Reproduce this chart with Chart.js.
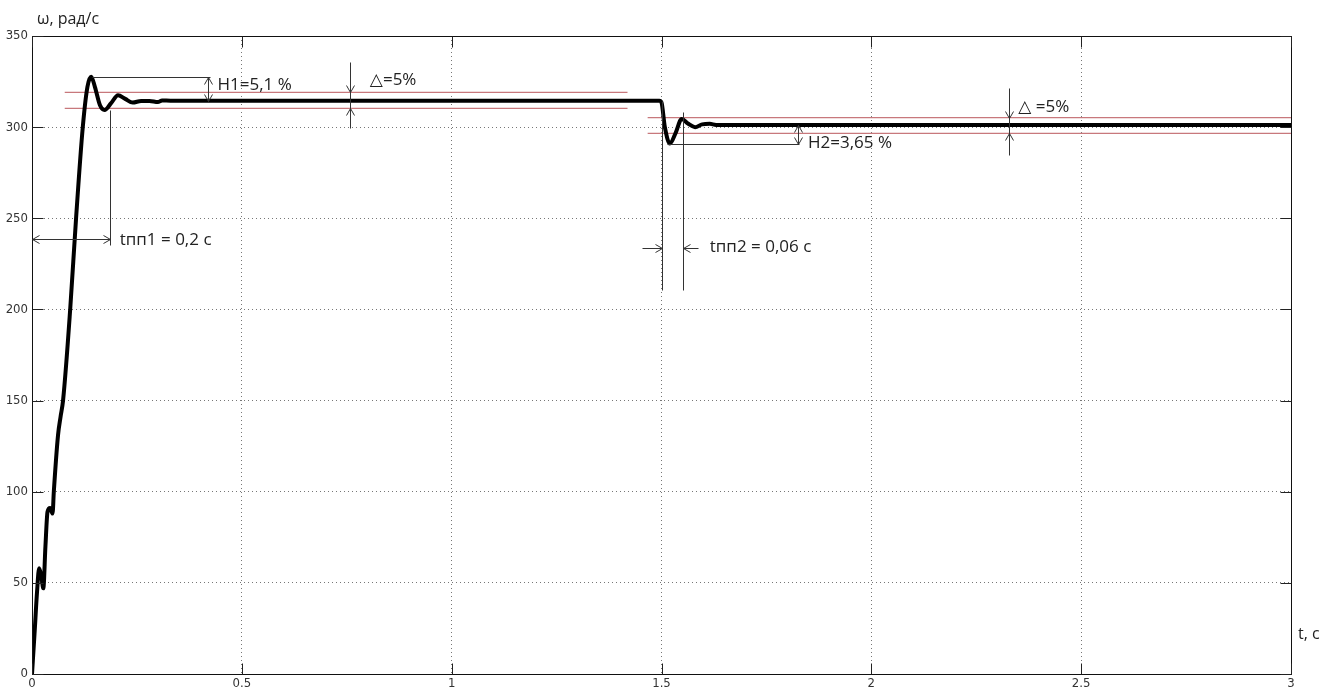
<!DOCTYPE html>
<html>
<head>
<meta charset="utf-8">
<script src="https://cdn.jsdelivr.net/npm/chart.js@4.4.1/dist/chart.umd.min.js"></script>
<style>
  html, body { margin: 0; padding: 0; background: #fff; }
  #wrap { width: 1327px; height: 689px; }
</style>
</head>
<body>
<div id="wrap"><canvas id="speedChart" width="1327" height="689"></canvas></div>
<script>
// --- dados ---
// tempo (s) e velocidade angular (rad/s)
const tData = [0, 0.006, 0.012, 0.017, 0.022, 0.027, 0.032, 0.037, 0.043, 0.049, 0.052, 0.062, 0.068, 0.074,
  0.091, 0.105, 0.121, 0.132, 0.141, 0.150, 0.162, 0.173, 0.188, 0.205, 0.222, 0.240, 0.26, 0.28,
  0.30, 0.31, 0.33, 1.495, 1.500, 1.508, 1.520, 1.534, 1.548, 1.563, 1.580, 1.597, 1.615, 1.63, 1.65, 3.0];
const wData = [0, 22, 45, 58, 54, 47, 70, 89, 91, 88, 100, 131, 141, 150,
  200, 250, 300, 322, 327.6, 322, 312, 309.4, 313, 317.5, 315.5, 313.5, 314.4, 314.4,
  313.8, 314.6, 314.5, 314.5, 313.5, 300, 291, 297, 304.5, 302, 300, 301.5, 301.8, 301.2, 301.2, 301.2];

// faixas de ±Δ (linhas vermelhas)
const band1T = [0.078, 1.419];
const band1W = [319.1, 310.3];
const band2T = [1.467, 3];
const band2W = [305.2, 296.6];

// eixos
const xTicks = [0, 0.5, 1, 1.5, 2, 2.5, 3];
const yTicks = [0, 50, 100, 150, 200, 250, 300, 350];

// linhas auxiliares pretas [t1, w1, t2, w2]
const guideSegs = [
  [0.142, 327.6, 0.423, 327.6],   // topo H1
  [0.4185, 327.6, 0.4185, 314.5], // seta H1
  [0.757, 335.7, 0.757, 299.5],   // Δ1
  [0.185, 309.4, 0.185, 235.3],   // tпп1 vertical
  [0, 238.6, 0.185, 238.6],       // tпп1 seta
  [1.5, 314.5, 1.5, 210.6],       // tпп2 vertical esq.
  [1.552, 308.4, 1.552, 210.6],   // tпп2 vertical dir.
  [1.4525, 233.5, 1.5, 233.5],
  [1.5875, 233.5, 1.552, 233.5],
  [1.5125, 290.6, 1.828, 290.6],  // base H2
  [1.825, 301.2, 1.825, 290.6],   // seta H2
  [2.328, 321.3, 2.328, 284.7]    // Δ2
];
// pontas de seta [t, w, direção]
const arrowHeads = [
  [0.4185, 327.6, 'up'], [0.4185, 314.5, 'down'],
  [0.757, 319.1, 'down'], [0.757, 310.3, 'up'],
  [0, 238.6, 'left'], [0.185, 238.6, 'right'],
  [1.5, 233.5, 'right'], [1.552, 233.5, 'left'],
  [1.825, 301.2, 'up'], [1.825, 290.6, 'down'],
  [2.328, 305.2, 'down'], [2.328, 296.6, 'up']
];
// textos [t, w, texto]
const notes = [
  [0.442, 322.8, 'H1=5,1 %'],
  [0.805, 325.8, '△=5%'],
  [0.209, 238.2, 'tпп1 = 0,2 с'],
  [1.615, 234.0, 'tпп2 = 0,06 с'],
  [1.849, 291.0, 'H2=3,65 %'],
  [2.350, 311.2, '△ =5%']
];

const toPts = (ts, ws) => ts.map((t, i) => ({ x: t, y: ws[i] }));
const textFont = "17px 'Open Sans', 'DejaVu Sans', sans-serif";

// plugin para moldura, marcas internas e anotações
const guidesPlugin = {
  id: 'guides',
  afterDatasetsDraw(chart) {
    const { ctx, chartArea: a, scales: { x, y } } = chart;
    const px = t => x.getPixelForValue(t);
    const py = w => y.getPixelForValue(w);
    ctx.save();

    // moldura
    ctx.strokeStyle = '#111';
    ctx.lineWidth = 1;
    ctx.setLineDash([]);
    const L = Math.round(a.left) + 0.5, R = Math.round(a.right) + 0.5;
    const T = Math.round(a.top) + 0.5, B = Math.round(a.bottom) + 0.5;
    ctx.strokeRect(L, T, R - L, B - T);

    // marcas internas
    ctx.strokeStyle = '#222';
    ctx.beginPath();
    xTicks.forEach(t => {
      const xp = Math.round(px(t)) + 0.5;
      ctx.moveTo(xp, B); ctx.lineTo(xp, B - 11);
      ctx.moveTo(xp, T); ctx.lineTo(xp, T + 11);
    });
    yTicks.forEach(w => {
      const yp = Math.round(py(w)) + 0.5;
      ctx.moveTo(L, yp); ctx.lineTo(L + 11, yp);
      ctx.moveTo(R, yp); ctx.lineTo(R - 11, yp);
    });
    ctx.stroke();

    // linhas auxiliares
    ctx.strokeStyle = '#333';
    ctx.beginPath();
    guideSegs.forEach(s => {
      const x1 = Math.round(px(s[0])) + 0.5, y1 = Math.round(py(s[1])) + 0.5;
      const x2 = Math.round(px(s[2])) + 0.5, y2 = Math.round(py(s[3])) + 0.5;
      ctx.moveTo(x1, y1); ctx.lineTo(x2, y2);
    });
    ctx.stroke();

    // pontas de seta abertas
    ctx.beginPath();
    arrowHeads.forEach(([t, w, dir]) => {
      const xp = Math.round(px(t)) + 0.5, yp = Math.round(py(w)) + 0.5;
      const l = 7, h = 4;
      if (dir === 'up') { ctx.moveTo(xp - h, yp + l); ctx.lineTo(xp, yp); ctx.lineTo(xp + h, yp + l); }
      if (dir === 'down') { ctx.moveTo(xp - h, yp - l); ctx.lineTo(xp, yp); ctx.lineTo(xp + h, yp - l); }
      if (dir === 'left') { ctx.moveTo(xp + l, yp - h); ctx.lineTo(xp, yp); ctx.lineTo(xp + l, yp + h); }
      if (dir === 'right') { ctx.moveTo(xp - l, yp - h); ctx.lineTo(xp, yp); ctx.lineTo(xp - l, yp + h); }
    });
    ctx.stroke();

    // textos
    ctx.fillStyle = '#222';
    ctx.font = textFont;
    ctx.textAlign = 'left';
    ctx.textBaseline = 'middle';
    notes.forEach(([t, w, s]) => ctx.fillText(s, px(t), py(w)));

    // títulos dos eixos
    ctx.font = "16px 'Open Sans', 'DejaVu Sans', sans-serif";
    ctx.fillText('ω, рад/с', a.left + 5, 19);
    ctx.fillText('t, с', a.right + 7, a.bottom - 40);
    ctx.restore();
  }
};

const ctx = document.getElementById('speedChart').getContext('2d');
new Chart(ctx, {
  type: 'line',
  data: {
    datasets: [
      {
        data: toPts(tData, wData),
        borderColor: '#000',
        borderWidth: 4,
        pointRadius: 0,
        cubicInterpolationMode: 'monotone',
        fill: false
      },
      { data: toPts(band1T, [band1W[0], band1W[0]]), borderColor: '#c8787c', borderWidth: 1.2, pointRadius: 0 },
      { data: toPts(band1T, [band1W[1], band1W[1]]), borderColor: '#c8787c', borderWidth: 1.2, pointRadius: 0 },
      { data: toPts(band2T, [band2W[0], band2W[0]]), borderColor: '#c8787c', borderWidth: 1.2, pointRadius: 0 },
      { data: toPts(band2T, [band2W[1], band2W[1]]), borderColor: '#c8787c', borderWidth: 1.2, pointRadius: 0 }
    ]
  },
  options: {
    responsive: false,
    animation: false,
    devicePixelRatio: 1,
    layout: { padding: { top: 36, right: 36, left: 0, bottom: 0 } },
    plugins: { legend: { display: false }, tooltip: { enabled: false } },
    scales: {
      x: {
        type: 'linear',
        min: 0, max: 3,
        afterFit: s => { s.height = 15; },
        afterBuildTicks: s => { s.ticks = xTicks.map(v => ({ value: v })); },
        grid: { color: '#777', lineWidth: 1, drawTicks: false },
        border: { display: false, dash: [1, 3] },
        ticks: {
          padding: 2,
          color: '#333',
          font: { family: "'Liberation Sans Narrow', 'DejaVu Sans Condensed', sans-serif", size: 13 },
          callback: v => String(v)
        }
      },
      y: {
        min: 0, max: 350,
        afterFit: s => { s.width = 32; },
        afterBuildTicks: s => { s.ticks = yTicks.map(v => ({ value: v })); },
        grid: { color: '#777', lineWidth: 1, drawTicks: false },
        border: { display: false, dash: [1, 3] },
        ticks: {
          padding: 4,
          color: '#333',
          font: { family: "'Liberation Sans Narrow', 'DejaVu Sans Condensed', sans-serif", size: 13 }
        }
      }
    }
  },
  plugins: [guidesPlugin]
});
</script>
</body>
</html>
